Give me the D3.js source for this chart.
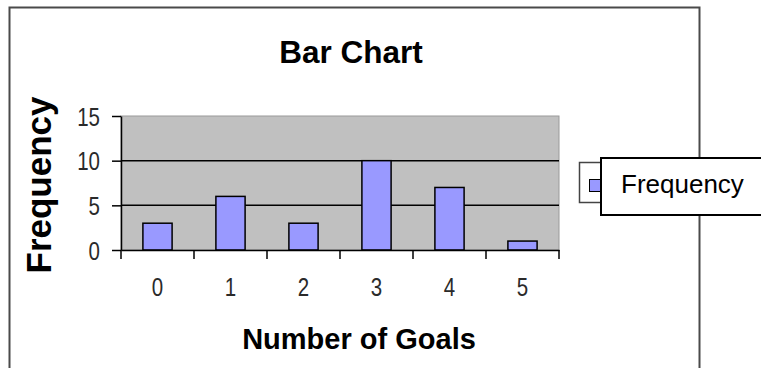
<!DOCTYPE html>
<html>
<head>
<meta charset="utf-8">
<script src="https://cdn.jsdelivr.net/npm/d3@7"></script>
<style>
  html, body { margin: 0; padding: 0; background: #fff; }
  svg { display: block; }
</style>
</head>
<body>
<svg id="chart" width="761" height="368"></svg>
<script>
// Goals scored per match and how often each count occurred
const categories = ["0", "1", "2", "3", "4", "5"];
const frequency = [3, 6, 3, 10, 7, 1];
const yTicks = [0, 5, 10, 15];
const seriesName = "Frequency";

const svg = d3.select("#chart");
const plot = { left: 121, right: 559, top: 116, bottom: 250 };

const mainFont = "'Liberation Sans', Arial, Helvetica, sans-serif";
const tickScaleX = 0.82; // narrow tick digits

// Chart area frame
svg.append("rect")
  .attr("x", 9.5).attr("y", 7.5)
  .attr("width", 690).attr("height", 380)
  .attr("fill", "#fff")
  .attr("stroke", "#4a4a4a")
  .attr("stroke-width", 2);

const x = d3.scaleBand().domain(categories).range([plot.left, plot.right]).padding(0);
const y = d3.scaleLinear().domain([0, 15]).range([plot.bottom, plot.top]);

// Plot area
svg.append("rect")
  .attr("x", plot.left).attr("y", plot.top)
  .attr("width", plot.right - plot.left).attr("height", plot.bottom - plot.top)
  .attr("fill", "#c0c0c0")
  .attr("stroke", "#9a9a9a")
  .attr("stroke-width", 1);

// Horizontal gridlines
svg.append("g")
  .selectAll("line")
  .data(yTicks.filter(t => t > 0 && t < 15))
  .join("line")
  .attr("x1", plot.left).attr("x2", plot.right)
  .attr("y1", d => y(d)).attr("y2", d => y(d))
  .attr("stroke", "#000").attr("stroke-width", 1.5);

// Bars, centred in each band (gap width 150%)
const barW = x.bandwidth() / 2.5;
svg.append("g")
  .selectAll("rect")
  .data(categories.map((c, i) => ({ c, v: frequency[i] })))
  .join("rect")
  .attr("x", d => x(d.c) + (x.bandwidth() - barW) / 2)
  .attr("y", d => y(d.v))
  .attr("width", barW)
  .attr("height", d => y(0) - y(d.v))
  .attr("fill", "#9999ff")
  .attr("stroke", "#000")
  .attr("stroke-width", 1.5);

// Y axis
const yAxis = svg.append("g")
  .attr("transform", `translate(${plot.left},0)`)
  .call(d3.axisLeft(y).tickValues(yTicks).tickSize(9).tickPadding(12).tickSizeOuter(0));
yAxis.select(".domain").attr("stroke", "#000").attr("stroke-width", 1.5);
yAxis.selectAll(".tick line").attr("stroke", "#000").attr("stroke-width", 1.5);
yAxis.selectAll(".tick text")
  .attr("font-family", mainFont)
  .attr("font-size", 25)
  .attr("fill", "#2a2a2a")
  .attr("x", 0)
  .attr("dy", "0.36em")
  .attr("transform", `translate(-21,0) scale(${tickScaleX},1)`);

// X axis baseline with category labels
const xAxis = svg.append("g")
  .attr("transform", `translate(0,${plot.bottom})`)
  .call(d3.axisBottom(x).tickSize(0).tickPadding(28).tickSizeOuter(0));
xAxis.select(".domain").attr("stroke", "#000").attr("stroke-width", 1.5);
xAxis.selectAll(".tick text")
  .attr("font-family", mainFont)
  .attr("font-size", 25)
  .attr("fill", "#2a2a2a")
  .attr("transform", `scale(${tickScaleX},1)`);

// Tick marks between categories
const boundaries = categories.map(c => x(c)).concat([x.range()[1]]);
xAxis.append("g")
  .selectAll("line")
  .data(boundaries)
  .join("line")
  .attr("x1", d => d).attr("x2", d => d)
  .attr("y1", 0).attr("y2", 9)
  .attr("stroke", "#000").attr("stroke-width", 1.5);

// Titles
svg.append("text")
  .attr("x", 351).attr("y", 63)
  .attr("text-anchor", "middle")
  .attr("font-family", mainFont)
  .attr("font-weight", "bold")
  .attr("font-size", 31.5)
  .attr("fill", "#000")
  .text("Bar Chart");

svg.append("text")
  .attr("x", 359).attr("y", 349)
  .attr("text-anchor", "middle")
  .attr("font-family", mainFont)
  .attr("font-weight", "bold")
  .attr("font-size", 29)
  .attr("fill", "#000")
  .text("Number of Goals");

svg.append("text")
  .attr("transform", "translate(51,185) rotate(-90)")
  .attr("text-anchor", "middle")
  .attr("font-family", mainFont)
  .attr("font-weight", "bold")
  .attr("font-size", 35)
  .attr("fill", "#000")
  .text("Frequency");

// Legend
const legend = svg.append("g");
legend.append("rect")
  .attr("x", 579.5).attr("y", 162.5)
  .attr("width", 60).attr("height", 40)
  .attr("fill", "#fff")
  .attr("stroke", "#444").attr("stroke-width", 1.5);
legend.append("rect")
  .attr("x", 589.5).attr("y", 179.5)
  .attr("width", 12).attr("height", 12)
  .attr("fill", "#9999ff")
  .attr("stroke", "#000").attr("stroke-width", 1);
legend.append("rect")
  .attr("x", 601).attr("y", 158)
  .attr("width", 180).attr("height", 57)
  .attr("fill", "#fff")
  .attr("stroke", "#000").attr("stroke-width", 2);
legend.append("text")
  .attr("x", 621).attr("y", 193)
  .attr("font-family", mainFont)
  .attr("font-size", 26)
  .attr("fill", "#000")
  .text(seriesName);
</script>
</body>
</html>
